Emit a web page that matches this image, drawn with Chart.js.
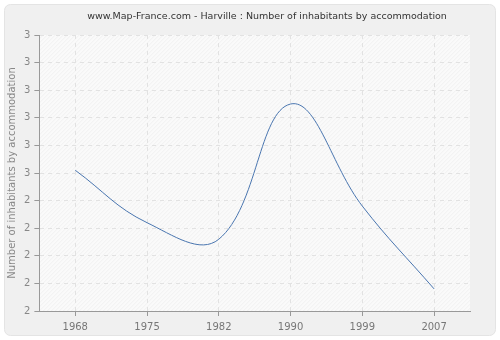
<!DOCTYPE html>
<html>
<head>
<meta charset="utf-8">
<script src="https://cdn.jsdelivr.net/npm/chart.js@4/dist/chart.umd.min.js"></script>
<style>
  html, body { margin: 0; padding: 0; background: #fff; }
  #wrap { width: 500px; height: 340px; }
</style>
</head>
<body>
<div id="wrap"><canvas id="chart" width="500" height="340"></canvas></div>
<script>
const years = ['1968', '1975', '1982', '1990', '1999', '2007'];
const inhabitants = [2.51, 2.32, 2.26, 2.75, 2.38, 2.08];
const yTickLabels = ['2', '2', '2', '2', '2', '3', '3', '3', '3', '3', '3'];
const titleText = 'www.Map-France.com - Harville : Number of inhabitants by accommodation';

// panel + hatched plot background, title drawn off-centre like the original
const background = {
  id: 'background',
  beforeDraw(chart) {
    const c = chart.ctx;
    const a = chart.chartArea;
    c.save();
    c.fillStyle = '#ffffff';
    c.fillRect(0, 0, chart.width, chart.height);
    c.fillStyle = '#f0f0f0';
    c.strokeStyle = '#e4e4e4';
    c.beginPath();
    c.roundRect(4.5, 4.5, chart.width - 9, chart.height - 9, 6);
    c.fill();
    c.stroke();

    c.fillStyle = '#fafafa';
    c.fillRect(a.left, a.top, a.right - a.left, a.bottom - a.top);
    c.beginPath();
    c.rect(a.left, a.top, a.right - a.left, a.bottom - a.top);
    c.clip();
    c.strokeStyle = '#f0f0f0';
    c.lineWidth = 1;
    for (let x = a.left - (a.bottom - a.top); x < a.right; x += 4) {
      c.beginPath();
      c.moveTo(x, a.bottom);
      c.lineTo(x + (a.bottom - a.top), a.top);
      c.stroke();
    }
    c.restore();
  },
  afterDraw(chart) {
    const c = chart.ctx;
    c.save();
    c.fillStyle = '#333';
    c.font = '9.5px "DejaVu Sans"';
    c.textAlign = 'center';
    c.textBaseline = 'middle';
    c.fillText(titleText, 267, 17);
    c.restore();
  }
};

new Chart(document.getElementById('chart'), {
  type: 'line',
  data: {
    labels: years,
    datasets: [{
      data: inhabitants,
      borderColor: '#4a76b0',
      borderWidth: 1,
      pointRadius: 0,
      tension: 0.4,
      fill: false
    }]
  },
  options: {
    responsive: false,
    animation: false,
    layout: { padding: { left: 6, right: 30, top: 35, bottom: 2 } },
    plugins: {
      legend: { display: false },
      tooltip: { enabled: false },
      title: { display: false }
    },
    scales: {
      x: {
        offset: true,
        grid: {
          offset: false,
          color: '#e2e2e2',
          tickColor: '#999',
          tickLength: 5
        },
        border: { color: '#999', dash: [4, 4] },
        ticks: {
          color: '#777',
          font: { family: 'DejaVu Sans', size: 10 },
          padding: 5
        }
      },
      y: {
        min: 2,
        max: 3,
        ticks: {
          stepSize: 0.1,
          color: '#888',
          font: { family: 'DejaVu Sans', size: 10 },
          padding: 4,
          callback: (v, i) => yTickLabels[i]
        },
        grid: {
          color: '#e2e2e2',
          tickColor: '#999',
          tickLength: 5
        },
        border: { color: '#999', dash: [4, 4] },
        title: {
          display: true,
          text: 'Number of inhabitants by accommodation',
          color: '#888',
          font: { family: 'DejaVu Sans', size: 10 },
          padding: { top: 0, bottom: 2 }
        }
      }
    }
  },
  plugins: [background]
});
</script>
</body>
</html>
